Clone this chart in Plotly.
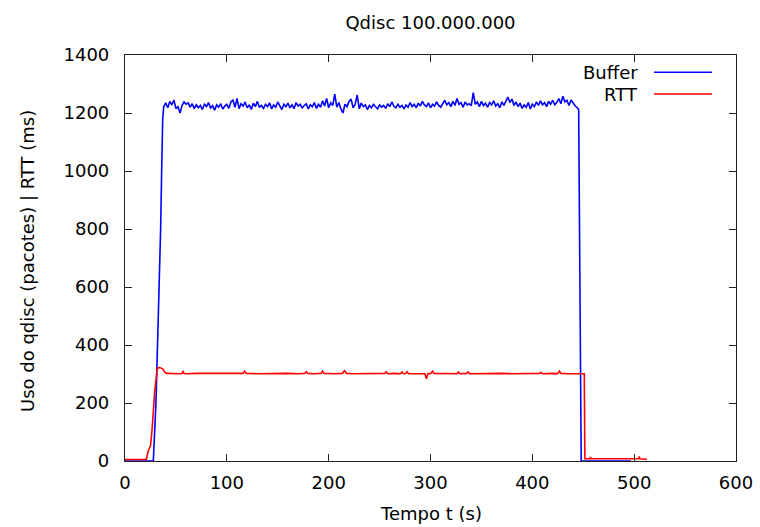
import plotly.graph_objects as go

# ---------------- data ----------------
# Buffer (qdisc usage, packets)
buf_rise_t = [0, 27.8, 30.4, 32, 33.6, 35, 36, 37]
buf_rise_v = [0, 0, 200, 400, 600, 800, 1000, 1176]

buf_plateau_t = list(range(38, 445, 2))
buf_plateau_v = [
    1222, 1235, 1218, 1240, 1228, 1245, 1215, 1222, 1200, 1226, 1238, 1230, 1235, 1220, 1232, 1215, 1228,
    1218, 1226, 1212, 1230, 1222, 1236, 1217, 1225, 1210, 1228, 1220, 1232, 1214, 1224, 1230, 1216, 1238,
    1245, 1220, 1250, 1215, 1232, 1224, 1238, 1218, 1228, 1212, 1234, 1222, 1240, 1220, 1226, 1216, 1230,
    1222, 1235, 1214, 1228, 1220, 1238, 1225, 1212, 1230, 1222, 1234, 1218, 1228, 1215, 1236, 1224, 1230,
    1218, 1226, 1232, 1214, 1228, 1222, 1236, 1216, 1230, 1220, 1242, 1224, 1250, 1218, 1235, 1226, 1265,
    1220, 1236, 1214, 1200, 1230, 1222, 1240, 1248, 1218, 1230, 1262, 1215, 1234, 1222, 1228, 1212, 1226,
    1218, 1230, 1222, 1214, 1228, 1220, 1226, 1216, 1232, 1222, 1238, 1224, 1218, 1230, 1220, 1226, 1214,
    1228, 1220, 1236, 1222, 1230, 1218, 1234, 1224, 1240, 1228, 1222, 1235, 1218, 1230, 1224, 1238, 1226,
    1220, 1232, 1244, 1228, 1236, 1222, 1240, 1226, 1250, 1230, 1236, 1220, 1238, 1228, 1232, 1225, 1270,
    1230, 1238, 1222, 1240, 1226, 1234, 1220, 1236, 1228, 1242, 1224, 1232, 1218, 1238, 1226, 1244, 1255,
    1236, 1248, 1226, 1238, 1222, 1234, 1216, 1228, 1220, 1236, 1214, 1230, 1222, 1238, 1226, 1242, 1228,
    1236, 1222, 1240, 1230, 1244, 1228, 1236, 1250, 1232, 1258, 1238, 1244, 1226, 1245, 1234, 1225, 1218,
]
buf_fall_t = [445.5, 448, 496.8]
buf_fall_v = [1212, 0, 0]

# RTT (ms)
rtt_t = [
    0, 20.9, 22.6, 25.2, 26.8, 29, 31.7, 34, 37, 39, 41, 45,
    50, 55, 56, 57, 58, 60, 70, 80, 90, 100, 110, 116,
    117.5, 119, 130, 140, 150, 160, 170, 176.5, 178, 179.5, 185, 192.5,
    194, 195.5, 205, 213.5, 215.5, 217.5, 225, 235, 245, 255, 256.5, 258,
    265, 270.5, 272, 273.5, 275.5, 277, 278.5, 285, 294.5, 296, 297.5, 300.5,
    302, 303.5, 310, 320, 326, 327.5, 329, 335.5, 337, 338.5, 350, 360,
    370, 380, 390, 400, 407, 408.5, 410, 420, 425, 426.5, 428, 435,
    440, 445, 451, 451.6, 455, 456.5, 457, 457.5, 465, 475, 485, 495,
    504.5, 505, 505.5, 512.5,
]
rtt_v = [
    5, 5, 32, 55, 118, 233, 320, 322, 318, 306, 302, 301,
    302, 301, 302, 310, 302, 301, 302, 301, 302, 302, 301, 302,
    310, 302, 301, 302, 301, 302, 301, 302, 308, 302, 301, 302,
    310, 302, 301, 302, 312, 302, 301, 302, 301, 302, 308, 301,
    302, 301, 307, 301, 302, 308, 301, 302, 301, 284, 301, 302,
    310, 302, 301, 302, 301, 307, 301, 302, 307, 301, 302, 301,
    302, 301, 302, 301, 302, 306, 301, 302, 301, 310, 302, 301,
    302, 301, 301, 8, 8, 8, 14, 8, 8, 8, 8, 8,
    8, 16, 8, 6,
]

buf_t = buf_rise_t + buf_plateau_t + buf_fall_t
buf_v = buf_rise_v + buf_plateau_v + buf_fall_v

x_ticks = [0, 100, 200, 300, 400, 500, 600]
y_ticks = [0, 200, 400, 600, 800, 1000, 1200, 1400]

FONT = "DejaVu Sans, sans-serif"
L, R, T, B = 125, 24, 55, 66
W, H = 760, 527
PW, PH = W - L - R, H - T - B

fig = go.Figure()
fig.add_trace(go.Scatter(x=buf_t, y=buf_v, mode="lines", name="Buffer",
                         line=dict(color="#0000ff", width=1.6)))
fig.add_trace(go.Scatter(x=rtt_t, y=rtt_v, mode="lines", name="RTT",
                         line=dict(color="#ff0000", width=1.6)))

axis_common = dict(
    showline=True, linecolor="#222222", linewidth=1.2, mirror="ticks",
    ticks="inside", ticklen=7, tickcolor="#222222", tickwidth=1.2,
    showgrid=False, zeroline=False, automargin=False,
    tickfont=dict(family=FONT, size=18, color="#000000"),
)

fig.update_layout(
    width=W, height=H,
    margin=dict(l=L, r=R, t=T, b=B, autoexpand=False),
    paper_bgcolor="white", plot_bgcolor="white",
    showlegend=False,
    title=dict(text="Qdisc 100.000.000", x=(L + PW / 2) / W, xanchor="center",
               y=1 - 23 / H, yanchor="middle",
               font=dict(family=FONT, size=18, color="#000000")),
    xaxis=dict(range=[0, 600], tickvals=x_ticks, ticklabelstandoff=5, **axis_common),
    yaxis=dict(range=[0, 1400], tickvals=y_ticks, ticklabelstandoff=11, **axis_common),
)

# axis titles placed like gnuplot
fig.add_annotation(text="Tempo t (s)", xref="paper", yref="paper",
                   x=0.5, y=-(513 - (H - B)) / PH, xanchor="center", yanchor="middle",
                   showarrow=False, font=dict(family=FONT, size=18, color="#000000"))
fig.add_annotation(text="Uso do qdisc (pacotes) | RTT (ms)", xref="paper", yref="paper",
                   x=-(L - 27) / PW, y=(H - B - 261) / PH, xanchor="center", yanchor="middle",
                   textangle=-90, showarrow=False,
                   font=dict(family=FONT, size=18, color="#000000"))

# gnuplot-style legend: text right-aligned, line sample on the right
legend_items = [("Buffer", "#0000ff", (H - B - 72.3) / PH), ("RTT", "#ff0000", (H - B - 94) / PH)]
for name, color, yp in legend_items:
    fig.add_annotation(text=name, xref="paper", yref="paper", x=(640 - L) / PW, y=yp,
                       xanchor="right", yanchor="middle", showarrow=False,
                       font=dict(family=FONT, size=18, color="#000000"))
    fig.add_shape(type="line", xref="paper", yref="paper", x0=(654 - L) / PW, x1=(712 - L) / PW,
                  y0=yp, y1=yp, line=dict(color=color, width=1.6))

fig.write_html("out.html")
